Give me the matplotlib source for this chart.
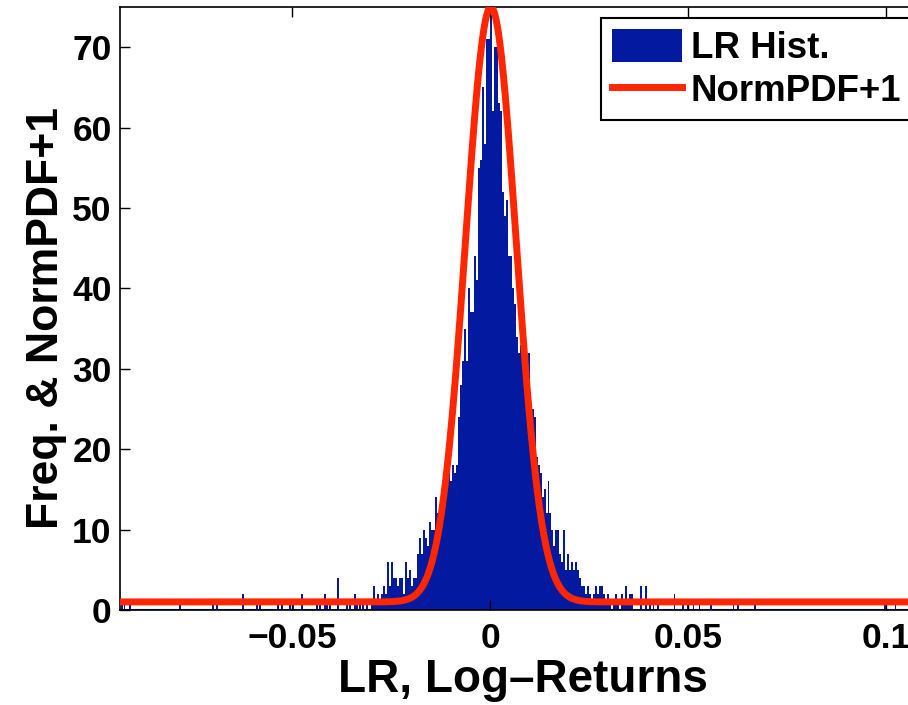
import numpy as np
import matplotlib
matplotlib.use('Agg')
import matplotlib.pyplot as plt

# histogram of log-returns: dense core, bins of equal width starting at core_start
core_start = -0.0300
bin_width = 0.0005
core_counts = [1, 3, 1, 2, 1, 2, 3, 2, 6, 3, 6, 4, 4, 3, 4, 4, 2, 6, 4, 5,
               3, 4, 4, 7, 9, 7, 10, 9, 8, 11, 10, 10, 14, 12, 12, 15, 14, 16, 15, 17,
               16, 18, 17, 18, 24, 28, 31, 35, 31, 40, 37, 37, 44, 41, 55, 56, 65, 58, 71, 71,
               74, 62, 70, 70, 63, 62, 52, 49, 51, 44, 44, 40, 38, 34, 32, 33, 30, 31, 29, 32,
               25, 25, 24, 19, 18, 17, 14, 15, 12, 16, 12, 10, 8, 10, 10, 7, 6, 10, 5, 7,
               5, 6, 5, 6, 5, 4, 3, 3, 2, 3, 2, 1, 2, 3, 2, 3, 3, 2, 1, 2,
               1, 0, 1, 2, 1, 0, 2, 1, 3, 1, 2, 2]

# sparse outliers in the tails (bin position, count)
left_tail_x = [-0.0929, -0.0922, -0.0909, -0.0783, -0.0699, -0.0689, -0.0624, -0.0588,
               -0.0581, -0.0535, -0.0525, -0.0505, -0.0497, -0.0475, -0.0437, -0.0429,
               -0.0417, -0.0412, -0.0404, -0.0384, -0.0361, -0.0354, -0.0341, -0.0336,
               -0.0328, -0.0321, -0.0311]
left_tail_counts = [1, 1, 1, 1, 1, 1, 2, 1, 1, 1, 1, 1, 1, 2, 1, 1, 2, 1, 1, 4, 1, 1, 2, 1, 1, 1, 1]
right_tail_x = [0.0381, 0.0394, 0.0404, 0.0412, 0.0424, 0.0465, 0.0487, 0.0500, 0.0513,
                0.0528, 0.0558, 0.0614, 0.0626, 0.0669, 0.0997, 0.1023]
right_tail_counts = [3, 3, 1, 1, 1, 2, 1, 1, 1, 1, 1, 1, 1, 1, 1, 1]

# fitted normal curve, shifted up by one
pdf_mean = 0.0002
pdf_sigma = 0.0064
pdf_peak = 74.0

x_limits = (-0.0934, 0.1098)
y_limits = (0, 75)
y_ticks = [0, 10, 20, 30, 40, 50, 60, 70]
x_ticks = [-0.05, 0, 0.05, 0.1]
x_tick_labels = ['\u22120.05', '0', '0.05', '0.1']

hist_blue = '#0319A0'
curve_red = '#FF2600'

plt.rcParams['font.family'] = ['Liberation Sans', 'DejaVu Sans']
plt.rcParams['font.weight'] = 'bold'

fig = plt.figure(figsize=(9.08, 7.05), dpi=100)
# the original figure is cropped on the right, so the axes run past the edge
ax = fig.add_axes([0.1322, 0.1348, 0.8866, 0.8553])

core_edges = core_start + bin_width * np.arange(len(core_counts))
bars = ax.bar(core_edges, core_counts, width=bin_width, align='edge',
              color=hist_blue, linewidth=0, label='LR Hist.')
ax.bar(left_tail_x, left_tail_counts, width=bin_width * 0.7, color=hist_blue, linewidth=0)
ax.bar(right_tail_x, right_tail_counts, width=bin_width * 0.7, color=hist_blue, linewidth=0)
ax.axhline(0, color=hist_blue, linewidth=1.5, zorder=2)

xs = np.linspace(x_limits[0], x_limits[1], 1200)
curve = 1 + pdf_peak * np.exp(-0.5 * ((xs - pdf_mean) / pdf_sigma) ** 2)
line, = ax.plot(xs, curve, color=curve_red, linewidth=5, label='NormPDF+1', zorder=3)

ax.set_xlim(*x_limits)
ax.set_ylim(*y_limits)
ax.set_yticks(y_ticks)
ax.set_xticks(x_ticks)
ax.set_xticklabels(x_tick_labels)
ax.tick_params(direction='in', length=7, width=1, top=True, right=True,
               labelsize=25.5)
ax.tick_params(axis='x', pad=9)
ax.tick_params(axis='y', pad=6)
for s in ax.spines.values():
    s.set_linewidth(1.2)

ax.set_xlabel('LR, Log\u2013Returns', fontsize=33, fontweight='bold', labelpad=2)
ax.set_ylabel('Freq. & NormPDF+1', fontsize=32, fontweight='bold')
ax.yaxis.set_label_coords(-0.066, 0.485)

leg = ax.legend(handles=[bars, line], labels=['LR Hist.', 'NormPDF+1'],
                loc='upper left', bbox_to_anchor=(0.5975, 0.982), fontsize=26.4,
                frameon=True, fancybox=False, framealpha=1, edgecolor='black',
                handlelength=1.9, handleheight=1.0, handletextpad=0.25,
                borderpad=0.3, labelspacing=0.18, borderaxespad=0)
leg.get_frame().set_linewidth(1.5)

fig.savefig('out.png', dpi=100)
